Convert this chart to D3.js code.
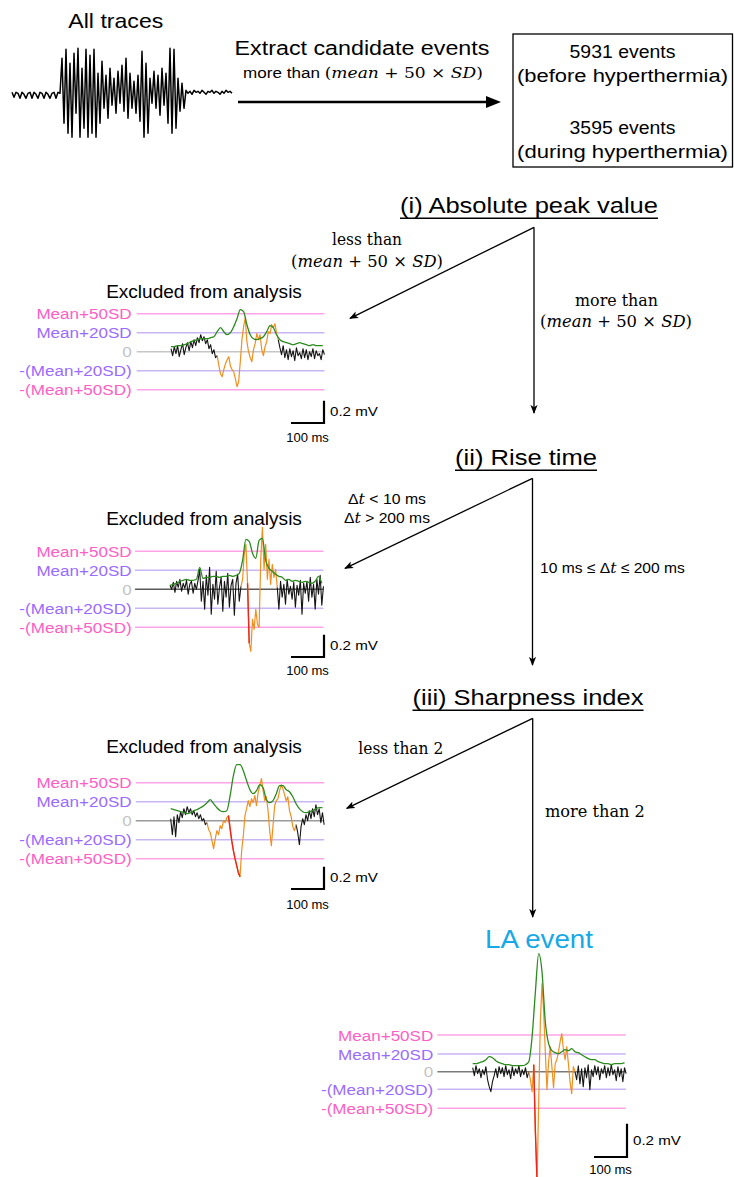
<!DOCTYPE html>
<html>
<head>
<meta charset="utf-8">
<script src="https://cdn.jsdelivr.net/npm/d3@7"></script>
<style>
  html, body { margin: 0; padding: 0; background: #fff; }
  svg { display: block; }
</style>
</head>
<body>
<svg id="fig" width="734" height="1177"></svg>
<script>
// ---------------- data ----------------
// Raw recording (arbitrary amplitude units), equally spaced samples
const rawTrace = [
  1,-4,1,0,-5,1,-1,-5,0,1,-5,1,-1,-5,1,0,-5,1,-1,-5,0,1,-5,1,0,
  35,-30,44,-40,30,-44,40,-20,45,-44,25,-35,44,-44,38,-40,44,-44,20,-30,
  32,-15,18,-25,25,-12,15,-20,22,-10,28,-18,35,-25,20,-15,12,-20,18,-28,
  42,-44,30,-40,15,-10,22,-15,18,-22,25,-12,20,-30,45,-40,44,-35,15,-18,
  10,-15,3,
  0,2,-1,3,1,2,0,3,1,-1,2,1,3,0,2,1,-1,2,0,3,1,2,0
];

const eventCounts = [5931, 3595];
const conditions = ["before hyperthermia", "during hyperthermia"];

// Candidate-event traces (µV), one sample every 5 ms
const traceStepMs = 5;
// Smoothed envelopes (µV), one sample every 10 ms
const envStepMs = 10;

// (i) rejected by absolute peak value
const traceA = [
  27,-36,45,-18,54,-45,18,72,-27,36,
  81,9,90,36,108,54,126,81,153,99,
  135,72,108,27,63,-18,18,-54,
  -36,-126,-198,-225,-162,-108,-72,-45,-126,-162,-180,-243,-315,-270,-90,108,225,306,90,0,-54,-90,
  18,72,162,108,153,18,-36,45,90,180,162,243,216,252,162,108,
  36,-27,54,-54,18,-72,27,-45,9,-81,36,-36,-9,-63,27,-54,18,-72,0,-45,27,-63,9,-36,-18,-72,18,-27
];
const envA = [
  45,45,54,54,63,72,90,99,108,117,117,117,126,135,180,216,180,153,171,225,
  297,378,360,243,153,117,108,117,135,180,234,216,153,108,90,81,72,63,72,81,
  72,63,54,63,54,54,54
];
const orangeA = [28, 65];
const redA = null;

// (ii) rejected by rise time
const traceB = [
  36,0,63,-27,72,18,90,-18,54,9,81,-45,45,72,-36,54,0,81,
  180,-108,72,-180,126,-54,198,-225,45,-90,162,-135,18,108,-198,72,-72,144,-162,36,90,-234,54,135,-108,27,
  90,315,405,54,-486,-558,-270,-360,-180,-315,-342,270,558,180,405,90,270,45,225,108,180,18,
  -180,72,-72,45,-135,90,-45,27,-90,63,-162,36,-54,81,-225,54,-36,72,-108,108,-72,45,-180,90,-45,126,-144,27
];
const envB = [
  36,45,54,72,81,90,81,81,90,198,99,108,108,117,117,108,117,117,126,117,
  126,144,261,450,432,324,279,441,459,261,189,162,135,117,108,81,90,72,81,72,
  63,72,63,54,72,117,54
];
const orangeB = [43, 65];
const redB = [47, 48];

// (iii) rejected by sharpness index
const traceC = [
  18,-126,36,-144,54,-18,81,27,108,54,
  126,72,108,54,90,36,72,18,54,0,
  18,-36,-18,-81,-108,-180,-252,-162,-90,-126,
  -45,-72,0,-18,27,45,-72,-180,-270,-342,
  -405,-468,-504,-270,-135,45,108,180,126,198,
  162,225,135,252,315,378,270,180,216,90,
  -90,-225,-45,135,180,198,270,324,288,234,
  180,216,90,36,-54,-90,-36,-108,-216,-54,
  18,-36,54,0,90,18,108,36,144,54,
  108,-18,72,-36
];
const envC = [
  108,99,90,81,72,63,72,90,99,117,135,162,189,153,117,90,81,90,225,405,
  504,504,450,360,279,243,270,324,297,189,162,180,243,315,315,279,261,216,153,108,
  81,72,81,90,108,117,117
];
const orangeC = [22, 76];
const redC = [35, 42];

// Accepted LA event
const traceLA = [
  24,-24,36,-12,18,-36,12,-18,30,-48,
  -90,-120,-60,-24,18,-36,30,-12,24,-30,
  36,-18,12,-42,30,-24,18,-12,36,-30,
  12,-18,24,-36,0,-48,-120,42,-360,-660,
  -180,300,528,360,120,-108,60,150,30,-96,
  48,72,120,180,228,132,72,150,48,-60,
  -132,30,0,-48,36,-72,18,-90,24,-36,
  42,-108,12,-30,36,-18,30,-48,18,-12,
  36,-36,24,-24,42,-18,12,-54,30,-30,
  18,-60,24,-12
];
const envLA = [
  48,48,54,60,72,90,84,66,54,48,42,42,36,36,36,36,42,60,210,480,
  708,600,300,168,126,114,108,120,132,126,138,120,114,102,90,78,72,72,60,54,
  48,48,42,48,48,48,54
];
const orangeLA = [34, 62];
const redLA = [37, 39];

// Threshold levels (µV) and their labels
const levelLabels = ["Mean+50SD", "Mean+20SD", "0", "-(Mean+20SD)", "-(Mean+50SD)"];
const levelsExcluded = [342, 171, 0, -171, -342];
const levelsLA = [220, 106, 0, -106, -220];

// Scale bar values
const scaleBarUV = 200;
const scaleBarMs = 100;

// ---------------- styling ----------------
const SANS = "'Liberation Sans', Arial, Helvetica, sans-serif";
const SERIF = "'DejaVu Serif', 'Liberation Serif', serif";
const PINK_TEXT = "#ff5ec4", PINK_LINE = "#ffa3e8";
const PURPLE_TEXT = "#9a6bff", PURPLE_LINE = "#c9b5f3";
const ZERO_TEXT = "#c4c4c4";
const C_BLACK = "#141414", C_ORANGE = "#f09020", C_RED = "#ee2418", C_GREEN = "#2c8a1f";
const LA_BLUE = "#17a9e6";

const svg = d3.select("#fig");

// Text helper: parts may mix sans and italic serif runs; optional target width
function label(x, y, parts, o) {
  const g = svg.append("g").attr("transform", `translate(${x},${y})`);
  const t = g.append("text")
    .attr("text-anchor", o.anchor || "middle")
    .attr("font-family", o.family || SANS)
    .attr("font-size", o.size)
    .attr("fill", o.fill || "#000");
  (typeof parts === "string" ? [{ t: parts }] : parts).forEach(p => {
    const ts = t.append("tspan").text(p.t);
    if (p.serif) ts.attr("font-family", SERIF);
    if (p.italic) ts.attr("font-style", "italic");
  });
  let w = t.node().getBBox().width;
  if (o.width) {
    t.attr("transform", `scale(${o.width / w},1)`);
    w = o.width;
  } else if (o.sx) {
    t.attr("transform", `scale(${o.sx},1)`);
    w = w * o.sx;
  }
  return w;
}

// ---------------- top row ----------------
label(115.8, 28.3, "All traces", { size: 20, width: 95 });

const rawX = d3.scaleLinear().domain([0, rawTrace.length - 1]).range([12, 232]);
const rawY = d3.scaleLinear().domain([-50, 50]).range([143.3, 43.3]);
svg.append("path")
  .attr("d", d3.line().x((d, i) => rawX(i)).y(d => rawY(d))(rawTrace))
  .attr("fill", "none").attr("stroke", "#000").attr("stroke-width", 1.5)
  .attr("stroke-linejoin", "round");

label(362, 55, "Extract candidate events", { size: 20, width: 255 });
const mathMean = [
  { t: "(" , serif: true },
  { t: "mean", serif: true, italic: true },
  { t: " + 50 × ", serif: true },
  { t: "SD", serif: true, italic: true },
  { t: ")", serif: true }
];
label(363, 78, [{ t: "more than " }].concat(mathMean), { size: 15.5, width: 240 });

// thick arrow to the event box
svg.append("line").attr("x1", 238).attr("y1", 102).attr("x2", 490).attr("y2", 102)
  .attr("stroke", "#000").attr("stroke-width", 2.7);
svg.append("path").attr("d", "M486,96L501,102L486,108Z").attr("fill", "#000");

// event-count box
svg.append("rect").attr("x", 513).attr("y", 34).attr("width", 219.5).attr("height", 133)
  .attr("fill", "none").attr("stroke", "#000").attr("stroke-width", 1.3);
const boxRows = [[57.5, 133.5], [81.5, 158]];
eventCounts.forEach((n, i) => {
  label(622.5, boxRows[0][i], `${n} events`, { size: 19, width: 106 });
  label(622.5, boxRows[1][i], `(${conditions[i]})`, { size: 19, width: 211 });
});

// ---------------- decision steps ----------------
const defs = svg.append("defs");
defs.append("marker").attr("id", "tip")
  .attr("viewBox", "0 -5 10 10").attr("refX", 9).attr("refY", 0)
  .attr("markerUnits", "userSpaceOnUse").attr("markerWidth", 9).attr("markerHeight", 9)
  .attr("orient", "auto")
  .append("path").attr("d", "M0,-4L10,0L0,4L2.5,0Z").attr("fill", "#000");

function heading(cx, y, text, w) {
  label(cx, y, text, { size: 22, width: w });
  svg.append("line").attr("x1", cx - w / 2).attr("x2", cx + w / 2)
    .attr("y1", y + 5.3).attr("y2", y + 5.3).attr("stroke", "#000").attr("stroke-width", 1.4);
}
function branch(ax, ay, dx, dy, vy) {
  svg.append("line").attr("x1", ax).attr("y1", ay).attr("x2", dx).attr("y2", dy)
    .attr("stroke", "#000").attr("stroke-width", 1.3).attr("marker-end", "url(#tip)");
  svg.append("line").attr("x1", ax).attr("y1", ay).attr("x2", ax).attr("y2", vy)
    .attr("stroke", "#000").attr("stroke-width", 1.3).attr("marker-end", "url(#tip)");
}

// (i)
heading(529, 213, "(i) Absolute peak value", 258);
branch(534, 227.3, 350, 318.3, 413);
label(367, 245, [{ t: "less than", serif: true }], { size: 17, width: 70 });
label(367, 267, mathMean, { size: 17, width: 152 });
label(616.5, 306, [{ t: "more than", serif: true }], { size: 17, width: 83 });
label(616, 326.7, mathMean, { size: 17, width: 152 });

// (ii)
heading(526, 465, "(ii) Rise time", 142);
branch(532.5, 478.3, 345, 568.3, 665);
label(387, 504, [{ t: "Δ" }, { t: "t", serif: true, italic: true }, { t: " < 10 ms" }], { size: 15, width: 78 });
label(387, 522.7, [{ t: "Δ" }, { t: "t", serif: true, italic: true }, { t: " > 200 ms" }], { size: 15, width: 86 });
label(540, 572.7, [{ t: "10 ms ≤ Δ" }, { t: "t", serif: true, italic: true }, { t: " ≤ 200 ms" }], { size: 15, width: 145, anchor: "start" });

// (iii)
heading(528, 705, "(iii) Sharpness index", 231);
branch(532.7, 718.3, 346.7, 808.3, 917);
label(358.3, 754, [{ t: "less than 2", serif: true }], { size: 17, width: 85, anchor: "start" });
label(545, 816.7, [{ t: "more than 2", serif: true }], { size: 17, width: 100, anchor: "start" });

// ---------------- event panels ----------------
function drawPanel(c) {
  const x = d3.scaleLinear().domain([0, scaleBarMs]).range([c.x0, c.x0 + 33]);
  const y = d3.scaleLinear().domain([0, c.uvPerPx * 100]).range([c.zeroY, c.zeroY - 100]);
  const g = svg.append("g");

  // threshold lines + labels
  const lineColors = [PINK_LINE, PURPLE_LINE, c.zeroColor, PURPLE_LINE, PINK_LINE];
  const textColors = [PINK_TEXT, PURPLE_TEXT, ZERO_TEXT, PURPLE_TEXT, PINK_TEXT];
  c.levels.forEach((v, i) => {
    g.append("line").attr("x1", x(c.lineMs[0])).attr("x2", x(c.lineMs[1]))
      .attr("y1", y(v)).attr("y2", y(v))
      .attr("stroke", lineColors[i]).attr("stroke-width", 1.5);
    label(c.labelX, y(v) + 5.5, levelLabels[i], { size: 15.5, sx: 1.1, anchor: "end", fill: textColors[i] });
  });

  if (c.title) label(c.titleX, c.titleY, c.title, c.titleStyle);

  const seg = (arr, a, b) => arr.map((d, i) => [i, d]).slice(a, b + 1);
  const segLine = d3.line().x(d => x(d[0] * traceStepMs)).y(d => y(d[1]));
  const n = c.trace.length;
  const drawSeg = (a, b, col, w) => g.append("path").attr("d", segLine(seg(c.trace, a, b)))
    .attr("fill", "none").attr("stroke", col).attr("stroke-width", w).attr("stroke-linejoin", "round");

  drawSeg(0, c.orange[0], C_BLACK, 1.1);
  drawSeg(c.orange[1], n - 1, C_BLACK, 1.1);
  drawSeg(c.orange[0], c.orange[1], C_ORANGE, 1.2);
  if (c.red) drawSeg(c.red[0], c.red[1], C_RED, 1.4);

  g.append("path")
    .attr("d", d3.line().x((d, i) => x(i * envStepMs)).y(d => y(d)).curve(d3.curveMonotoneX)(c.env))
    .attr("fill", "none").attr("stroke", C_GREEN).attr("stroke-width", 1.3);

  // scale bar
  const bw = x(scaleBarMs) - x(0), bh = y(0) - y(scaleBarUV);
  g.append("path")
    .attr("d", `M${c.barX - bw},${c.barY}H${c.barX}V${c.barY - bh}`)
    .attr("fill", "none").attr("stroke", "#000").attr("stroke-width", 2.2);
  label(c.barX + 6, c.barY - bh / 2 + 4.5, `${scaleBarUV / 1000} mV`, { size: 13.5, width: 48, anchor: "start" });
  label(c.barX - bw / 2, c.barY + c.msDy, `${scaleBarMs} ms`, { size: 13.5, width: 43 });
}

const exclTitle = { size: 18, width: 196 };
drawPanel({ trace: traceA, env: envA, orange: orangeA, red: redA, levels: levelsExcluded, uvPerPx: 9,
  x0: 171, zeroY: 351.7, labelX: 131.7, lineMs: [-104, 465], zeroColor: "#c6c6c6",
  title: "Excluded from analysis", titleX: 204, titleY: 298.3, titleStyle: exclTitle,
  barX: 324, barY: 423, msDy: 19 });
drawPanel({ trace: traceB, env: envB, orange: orangeB, red: redB, levels: levelsExcluded, uvPerPx: 9,
  x0: 170, zeroY: 589.3, labelX: 131.7, lineMs: [-106, 465], zeroColor: "#5a5a5a",
  title: "Excluded from analysis", titleX: 204, titleY: 525, titleStyle: exclTitle,
  barX: 324, barY: 657, msDy: 18 });
drawPanel({ trace: traceC, env: envC, orange: orangeC, red: redC, levels: levelsExcluded, uvPerPx: 9,
  x0: 170.7, zeroY: 820.7, labelX: 131.7, lineMs: [-106, 465], zeroColor: "#9a9a9a",
  title: "Excluded from analysis", titleX: 204, titleY: 752.7, titleStyle: exclTitle,
  barX: 324, barY: 889, msDy: 20 });
drawPanel({ trace: traceLA, env: envLA, orange: orangeLA, red: redLA, levels: levelsLA, uvPerPx: 6,
  x0: 472.7, zeroY: 1071.7, labelX: 433.3, lineMs: [-107, 464], zeroColor: "#7a7a7a",
  title: null, barX: 627, barY: 1157, msDy: 17 });

label(539, 948.3, "LA event", { size: 25, width: 108, fill: LA_BLUE });
</script>
</body>
</html>
